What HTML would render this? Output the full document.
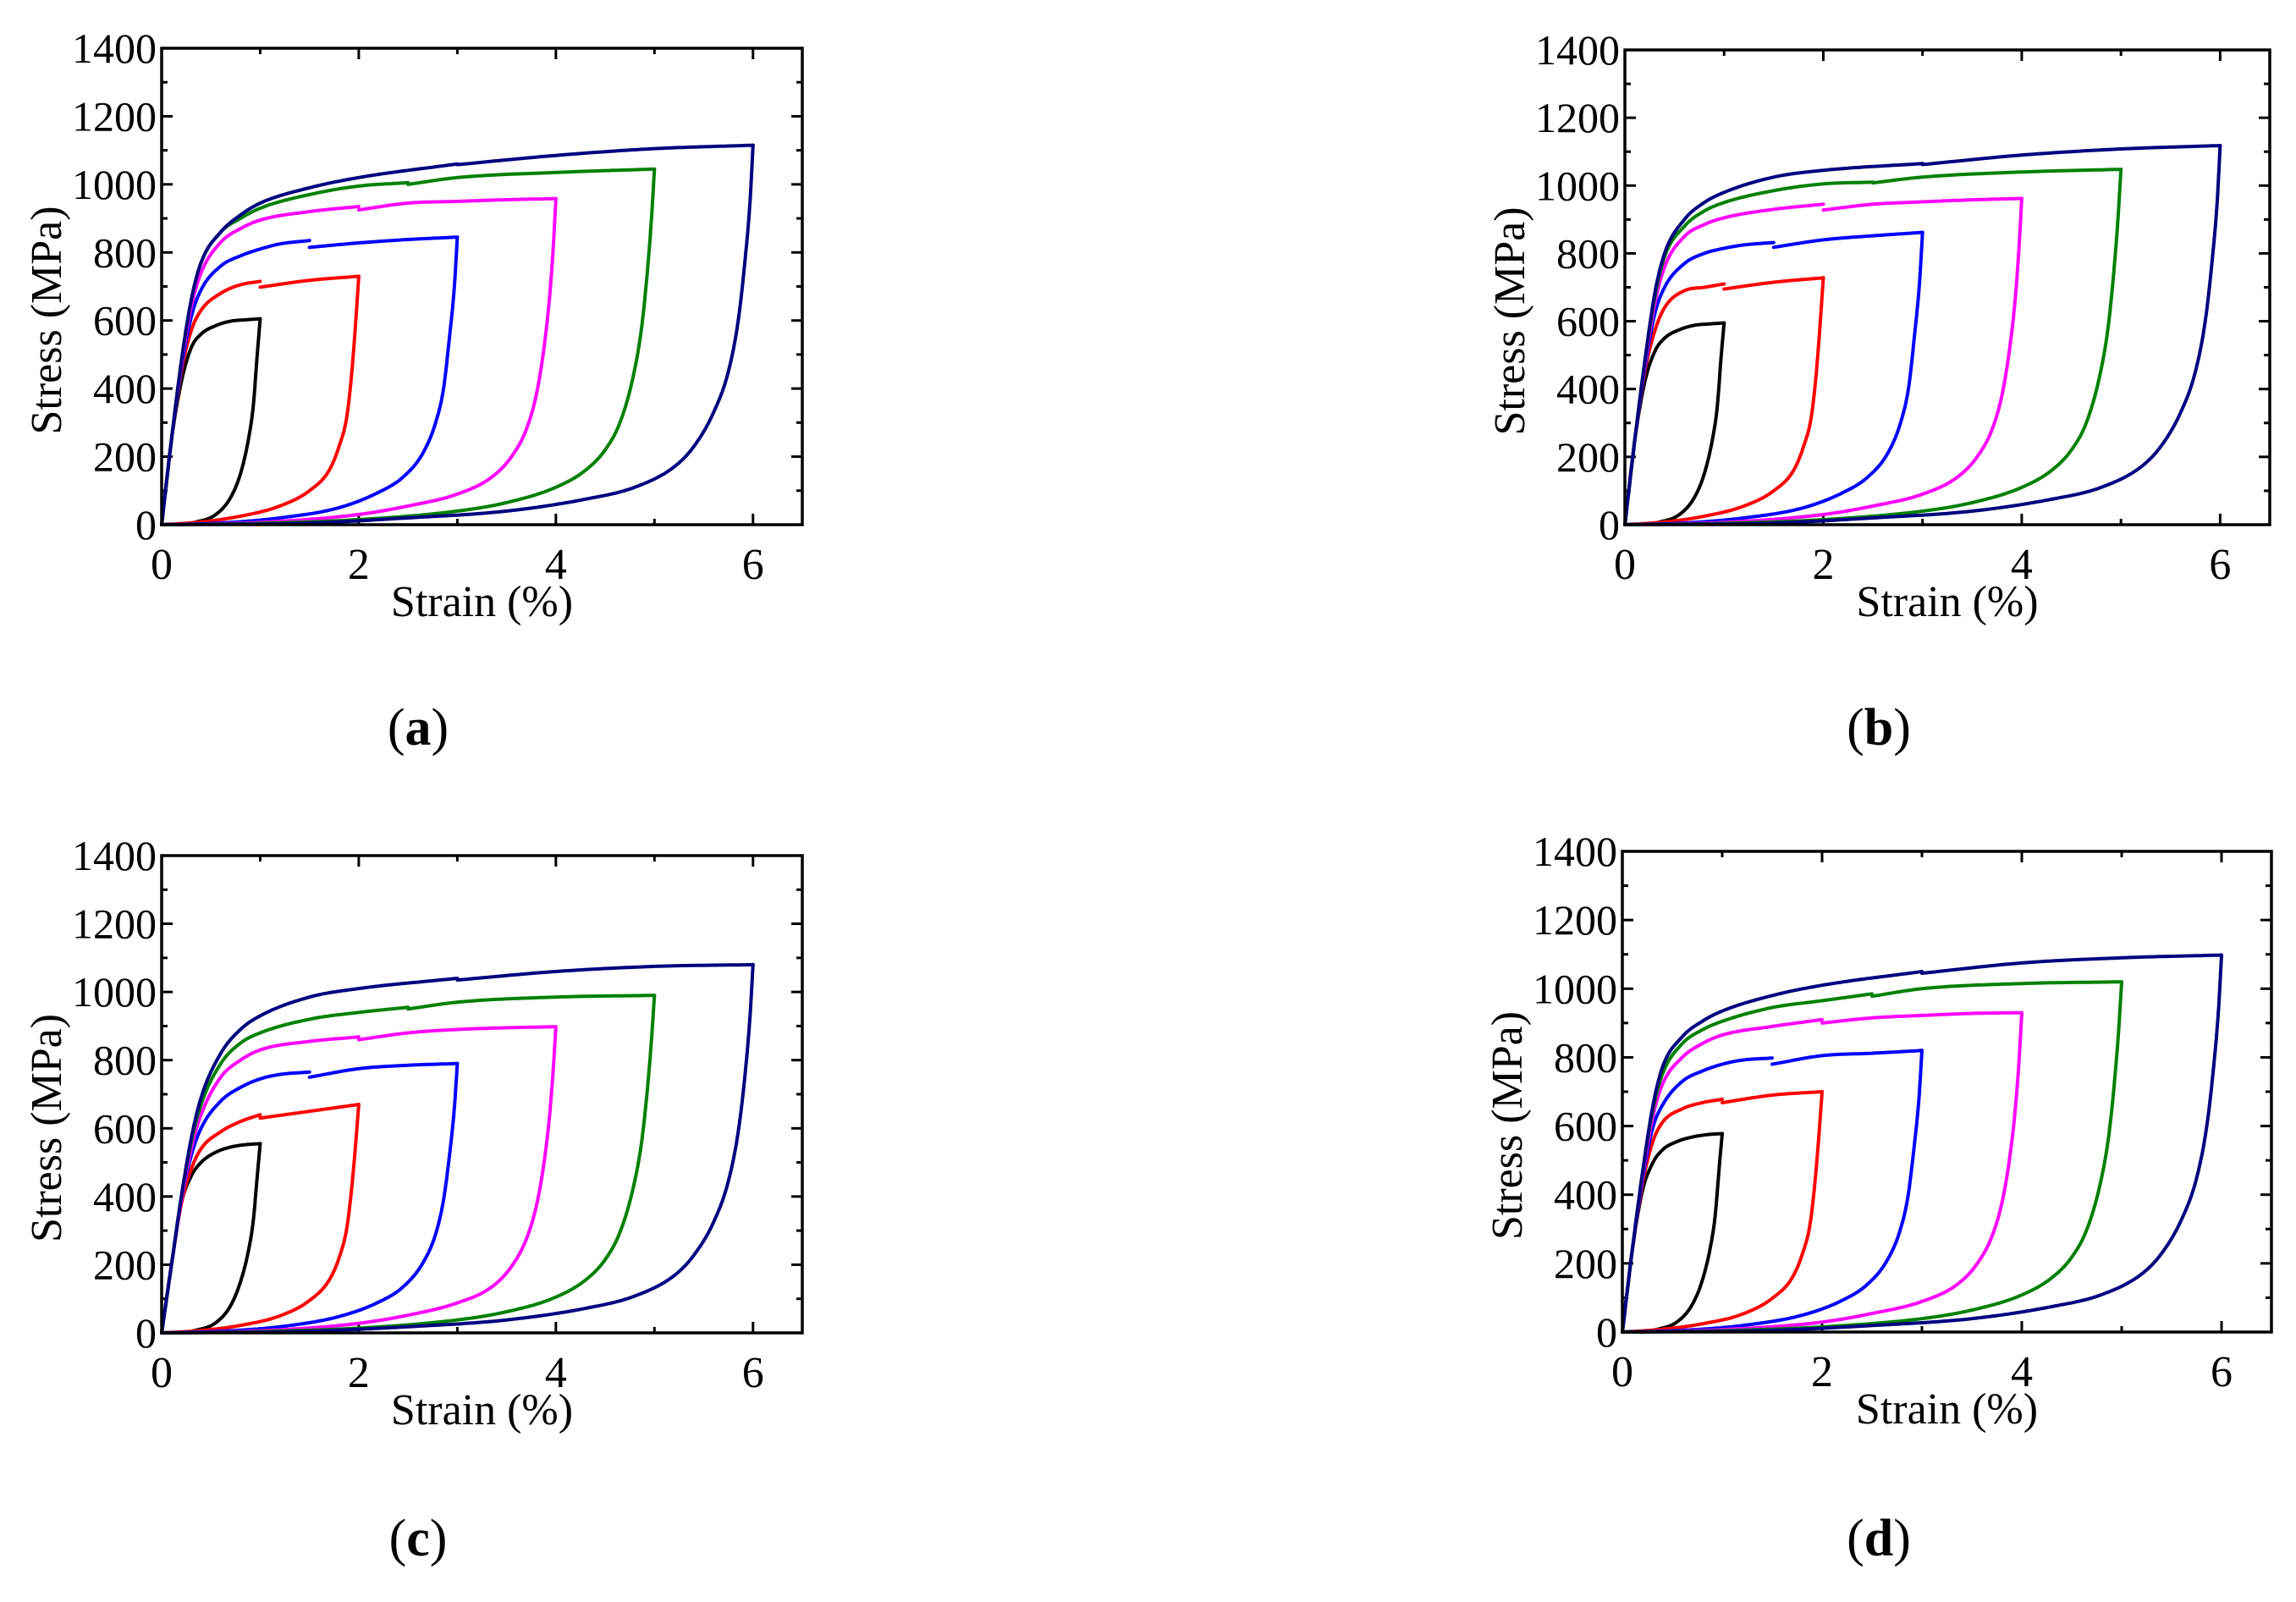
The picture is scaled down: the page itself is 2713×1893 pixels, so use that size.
<!DOCTYPE html>
<html><head><meta charset="utf-8">
<style>
html,body{margin:0;padding:0;background:#fff;}
svg{display:block;}
text{font-family:"Liberation Serif","Times New Roman",serif;fill:#000;}
</style></head>
<body>
<svg id="fig" width="2713" height="1893" viewBox="0 0 2713 1893" xmlns="http://www.w3.org/2000/svg" font-family="Liberation Serif, serif"></svg>
<script>
// ---- shared strain sampling (%), per series ----
const seriesNames = ["1%","2%","3%","4%","5%","6%"];
const seriesColors = ["#000000","#ff0000","#0000ff","#ff00ff","#008000","#000080"];
const loadStrain = [
 [0,0.1,0.2,0.3,0.4,0.55,0.7,0.85,1.0],
 [0,0.1,0.2,0.3,0.4,0.6,0.8,1.0,1.0,1.5,2.0],
 [0,0.1,0.2,0.3,0.4,0.6,0.8,1.0,1.2,1.5,1.5,2.0,2.5,3.0],
 [0,0.1,0.2,0.3,0.4,0.6,0.8,1.0,1.5,2.0,2.0,2.5,3.0,3.5,4.0],
 [0,0.1,0.2,0.3,0.4,0.6,0.8,1.0,1.5,2.0,2.5,2.5,3.0,4.0,5.0],
 [0,0.1,0.2,0.3,0.4,0.6,0.8,1.0,1.5,2.0,3.0,3.0,4.0,5.0,6.0]
];
const unloadStrain = [
 [1.0,0.97,0.93,0.88,0.8,0.7,0.55,0.35,0.15,0],
 [2,1.97,1.93,1.88,1.8,1.7,1.5,1.2,0.8,0.4,0],
 [3,2.97,2.92,2.86,2.78,2.65,2.45,2.2,1.8,1.2,0.6,0],
 [4,3.97,3.93,3.87,3.8,3.7,3.55,3.35,3.0,2.5,2.0,1.2,0.5,0],
 [5,4.97,4.93,4.87,4.78,4.65,4.5,4.3,4.0,3.5,3.0,2.0,1.0,0],
 [6,5.97,5.92,5.85,5.75,5.6,5.4,5.2,4.8,4.3,3.5,2.5,1.5,0]
];
// ---- stress (MPa) per panel ----
const loadA = [
 [0,250,420,520,560,585,598,602,605],
 [0,250,450,570,630,680,705,715,698,718,730],
 [0,250,460,610,690,760,790,810,825,835,815,828,838,845],
 [0,250,470,640,740,830,870,895,920,935,925,945,950,955,958],
 [0,250,480,660,770,860,900,930,970,995,1005,1000,1020,1035,1045],
 [0,250,480,660,770,860,910,945,990,1020,1060,1058,1085,1105,1115]
];
const unloadA = [
 [605,500,350,250,150,80,30,8,0,0],
 [730,600,450,320,230,160,100,55,25,8,0],
 [845,700,550,400,300,210,140,95,50,20,5,0],
 [958,800,650,500,380,280,200,140,90,55,30,10,2,0],
 [1045,900,750,580,430,300,220,160,110,65,40,15,4,0],
 [1115,950,780,600,450,330,230,170,110,75,40,20,5,0]
];
const loadB = [
 [0,250,420,510,550,575,588,592,595],
 [0,250,450,570,640,690,700,710,695,715,728],
 [0,250,460,620,700,770,800,815,825,832,818,840,852,862],
 [0,250,470,650,760,850,885,905,930,945,928,945,952,958,962],
 [0,250,480,670,790,880,925,950,985,1005,1010,1008,1025,1040,1048],
 [0,250,480,680,800,900,950,980,1025,1045,1065,1062,1090,1108,1118]
];
const unloadB = [
 [595,495,345,248,150,80,30,8,0,0],
 [728,600,450,320,230,160,100,55,25,8,0],
 [862,715,560,405,302,211,141,95,50,20,5,0],
 [962,805,652,502,381,280,200,140,90,55,30,10,2,0],
 [1048,902,752,581,431,300,220,160,110,65,40,15,4,0],
 [1118,952,781,601,451,330,230,170,110,75,40,20,5,0]
];
const loadC = [
 [0,200,380,460,500,530,545,552,555],
 [0,200,380,480,540,590,620,640,630,650,670],
 [0,200,390,520,600,680,720,745,758,765,750,775,785,790],
 [0,200,390,540,640,750,800,830,855,868,860,880,890,895,898],
 [0,200,400,560,670,790,850,880,920,940,955,950,970,985,990],
 [0,200,400,570,690,820,890,930,985,1010,1040,1035,1060,1075,1080]
];
const unloadC = [
 [555,460,330,240,150,80,30,8,0,0],
 [670,560,430,310,220,155,95,50,22,7,0],
 [790,660,520,390,290,205,135,90,48,18,5,0],
 [898,760,620,480,370,275,195,135,88,52,28,9,2,0],
 [990,860,720,560,420,295,215,155,105,62,38,14,4,0],
 [1080,930,760,590,445,325,228,168,108,72,38,18,5,0]
];
const loadD = [
 [0,240,410,490,530,555,568,575,578],
 [0,240,430,550,610,650,668,678,668,690,700],
 [0,240,440,590,660,730,760,780,792,798,780,805,812,820],
 [0,240,450,620,720,800,840,865,890,910,900,915,922,928,930],
 [0,240,460,640,750,840,880,905,945,965,985,978,1000,1015,1020],
 [0,240,460,650,770,860,905,935,980,1010,1050,1045,1075,1090,1098]
];
const unloadD = [
 [578,480,340,245,150,80,30,8,0,0],
 [700,580,440,315,225,158,98,52,24,8,0],
 [820,680,535,395,295,208,138,92,49,19,5,0],
 [930,780,635,490,375,278,198,138,89,54,29,10,2,0],
 [1020,880,735,570,425,298,218,158,108,64,39,15,4,0],
 [1098,940,770,595,448,328,229,169,109,74,39,19,5,0]
];
const xTicks = [0,2,4,6];
const xMinor = [1,3,5];
const yTicks = [0,200,400,600,800,1000,1200,1400];
const yMinor = [100,300,500,700,900,1100,1300];
const panelLabels = ["a","b","c","d"];

const NS = "http://www.w3.org/2000/svg";
const svg = document.getElementById("fig");
function mk(tag, attrs, parent){
  const e = document.createElementNS(NS, tag);
  for (const k in attrs) e.setAttribute(k, attrs[k]);
  (parent||svg).appendChild(e);
  return e;
}
// monotone cubic (Fritsch-Carlson) of y(x); x strictly monotone
function monoPath(xsArr, ysArr, X, Y){
  let xs = xsArr.slice(), ys = ysArr.slice();
  if (xs.length>1 && xs[0] > xs[xs.length-1]) { xs.reverse(); ys.reverse(); }
  const n = xs.length;
  if (n < 2) return "";
  const d = [], m = new Array(n);
  for (let i=0;i<n-1;i++) d.push((ys[i+1]-ys[i])/(xs[i+1]-xs[i]));
  m[0]=d[0]; m[n-1]=d[n-2];
  for (let i=1;i<n-1;i++){ m[i] = (d[i-1]*d[i] <= 0) ? 0 : (d[i-1]+d[i])/2; }
  for (let i=0;i<n-1;i++){
    if (d[i]===0){ m[i]=0; m[i+1]=0; continue; }
    const a = m[i]/d[i], b = m[i+1]/d[i], s = a*a+b*b;
    if (s>9){ const t=3/Math.sqrt(s); m[i]=t*a*d[i]; m[i+1]=t*b*d[i]; }
  }
  let path = "M"+X(xs[0]).toFixed(1)+","+Y(ys[0]).toFixed(1);
  for (let i=0;i<n-1;i++){
    const h = xs[i+1]-xs[i];
    const steps = 24;
    for (let k=1;k<=steps;k++){
      const t=k/steps, t2=t*t, t3=t2*t;
      const y = (2*t3-3*t2+1)*ys[i] + (t3-2*t2+t)*h*m[i] + (-2*t3+3*t2)*ys[i+1] + (t3-t2)*h*m[i+1];
      path += " L"+X(xs[i]+t*h).toFixed(1)+","+Y(y).toFixed(1);
    }
  }
  return path;
}

const panels = [
  {L:191, R:948, T:57, B:620, load:loadA, unload:unloadA, lx:494, ly:880},
  {L:1920, R:2682, T:59, B:620, load:loadB, unload:unloadB, lx:2220, ly:880},
  {L:191, R:948, T:1011, B:1575, load:loadC, unload:unloadC, lx:494, ly:1838},
  {L:1917, R:2684, T:1006, B:1574, load:loadD, unload:unloadD, lx:2220, ly:1838}
];

panels.forEach((p, pi) => {
  const g = mk("g", {});
  
  
  const xs = v => p.L + v/6.5*(p.R-p.L);
  const ys = v => p.B - v/1400*(p.B-p.T);
  const tg = mk("g", {stroke:"#000","stroke-width":3}, g);
  
  
  xTicks.forEach(v => {
    mk("line",{x1:xs(v),x2:xs(v),y1:p.B,y2:p.B-13},tg);
    mk("line",{x1:xs(v),x2:xs(v),y1:p.T,y2:p.T+13},tg);
    const t = mk("text",{x:xs(v),y:p.B+64,"font-size":52,"text-anchor":"middle"},g);
    t.textContent = v;
    
    
  });
  xMinor.forEach(v => {
    mk("line",{x1:xs(v),x2:xs(v),y1:p.B,y2:p.B-7},tg);
    mk("line",{x1:xs(v),x2:xs(v),y1:p.T,y2:p.T+7},tg);
  });
  yTicks.forEach(v => {
    mk("line",{x1:p.L,x2:p.L+13,y1:ys(v),y2:ys(v)},tg);
    mk("line",{x1:p.R,x2:p.R-13,y1:ys(v),y2:ys(v)},tg);
    const t = mk("text",{x:p.L-6,y:ys(v)+17,"font-size":50,"text-anchor":"end"},g);
    t.textContent = v;
    
    
  });
  yMinor.forEach(v => {
    mk("line",{x1:p.L,x2:p.L+7,y1:ys(v),y2:ys(v)},tg);
    mk("line",{x1:p.R,x2:p.R-7,y1:ys(v),y2:ys(v)},tg);
  });
  for (let s=0;s<6;s++){
    const sg = mk("g",{fill:"none",stroke:seriesColors[s],"stroke-width":4,"stroke-linejoin":"round","stroke-linecap":"round"},g);
    
    
    const lx = loadStrain[s], ly = p.load[s];
    let sx = [], sy = [];
    for (let i=0;i<lx.length;i++){
      if (i>0 && lx[i]===lx[i-1]){ mk("path",{d:monoPath(sx,sy,xs,ys)},sg); sx=[]; sy=[]; }
      sx.push(lx[i]); sy.push(ly[i]);
    }
    mk("path",{d:monoPath(sx,sy,xs,ys)},sg);
    mk("path",{d:monoPath(unloadStrain[s], p.unload[s], xs, ys)},sg);
  }
  const fr = mk("rect",{x:p.L,y:p.T,width:p.R-p.L,height:p.B-p.T,fill:"none",stroke:"#000","stroke-width":3.5},g);
  
  
  const xt = mk("text",{x:(p.L+p.R)/2,y:p.B+108,"font-size":52,"text-anchor":"middle"},g);
  xt.textContent = "Strain (%)";
  
  
  const cy = (p.T+p.B)/2 + 40;
  const yt = mk("text",{x:0,y:0,"font-size":52,"text-anchor":"middle",transform:"translate("+(p.L-119)+","+(cy)+") rotate(-90)"},g);
  yt.textContent = "Stress (MPa)";
  
  
  const pl = mk("text",{x:p.lx,y:p.ly,"font-size":62,"text-anchor":"middle"},g);
  pl.innerHTML = '(<tspan font-weight="bold">' + panelLabels[pi] + '</tspan>)';
  
  
});
</script>
</body></html>
